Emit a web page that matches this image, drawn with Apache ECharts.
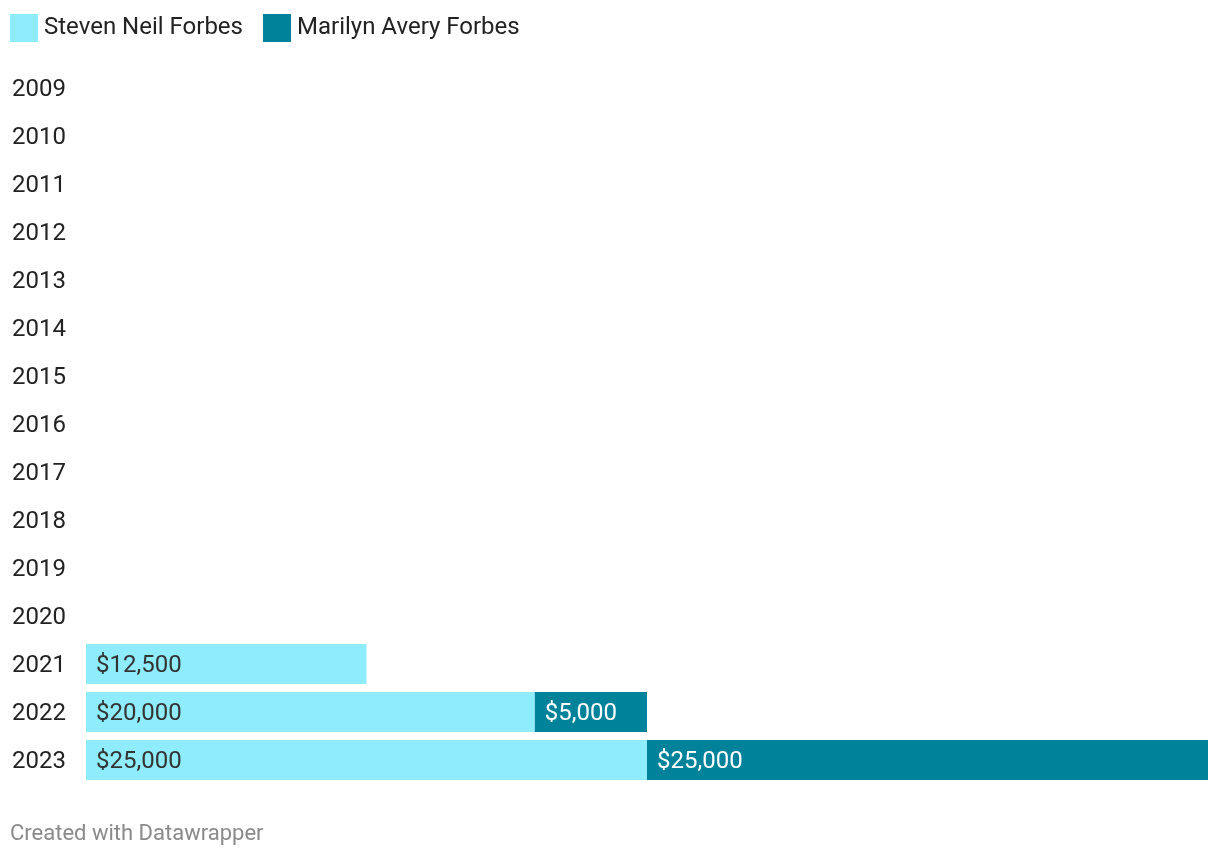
<!DOCTYPE html>
<html>
<head>
<meta charset="utf-8">
<script src="https://cdn.jsdelivr.net/npm/echarts@6/dist/echarts.min.js"></script>
<style>
html,body{margin:0;padding:0;background:#fff;}
#chart{width:1220px;height:858px;}
</style>
</head>
<body>
<div id="chart"></div>
<script>
const years = ['2009','2010','2011','2012','2013','2014','2015','2016','2017','2018','2019','2020','2021','2022','2023'];
const steven = [null,null,null,null,null,null,null,null,null,null,null,null,12500,20000,25000];
const marilyn = [null,null,null,null,null,null,null,null,null,null,null,null,null,5000,25000];
const seriesNames = ['Steven Neil Forbes','Marilyn Avery Forbes'];

const fmt = v => '$' + Number(v).toLocaleString('en-US');
const chart = echarts.init(document.getElementById('chart'));
chart.setOption({
  animation: false,
  textStyle: {fontFamily: 'Roboto'},
  legend: {
    left: 10, top: 14, padding: 0, itemWidth: 28, itemHeight: 28, itemGap: 20,
    icon: 'rect',
    textStyle: {fontSize: 24, color: '#222', fontFamily: 'Roboto', padding: [4,0,0,1]},
    data: seriesNames
  },
  grid: {left: 86, right: 12, top: 64, bottom: 74, containLabel: false},
  xAxis: {type: 'value', min: 0, max: 50000, show: false},
  yAxis: {
    type: 'category', data: years, inverse: true,
    axisLine: {show: false}, axisTick: {show: false},
    axisLabel: {align: 'left', margin: 74, fontSize: 24, color: '#222', fontFamily: 'Roboto',
      formatter: '{a|{value}}',
      rich: {a: {fontSize: 24, color: '#222', fontFamily: 'Roboto', padding: [3,0,0,0]}}}
  },
  series: [
    {
      name: seriesNames[0], type: 'bar', stack: 'a', data: steven, barWidth: 40,
      itemStyle: {color: '#8eecfc'},
      label: {show: true, position: 'insideLeft', distance: 10, offset: [0, 2], fontSize: 24, color: '#333', fontFamily: 'Roboto',
        formatter: p => p.value == null ? '' : fmt(p.value)}
    },
    {
      name: seriesNames[1], type: 'bar', stack: 'a', data: marilyn, barWidth: 40,
      itemStyle: {color: '#00839a'},
      label: {show: true, position: 'insideLeft', distance: 10, offset: [0, 2], fontSize: 24, color: '#fff', fontFamily: 'Roboto',
        formatter: p => p.value == null ? '' : fmt(p.value)}
    }
  ],
  graphic: [{
    type: 'text', left: 10, top: 823,
    style: {text: 'Created with Datawrapper', fontSize: 22, fill: '#8a8a8a', fontFamily: 'Roboto'}
  }]
});
</script>
</body>
</html>
